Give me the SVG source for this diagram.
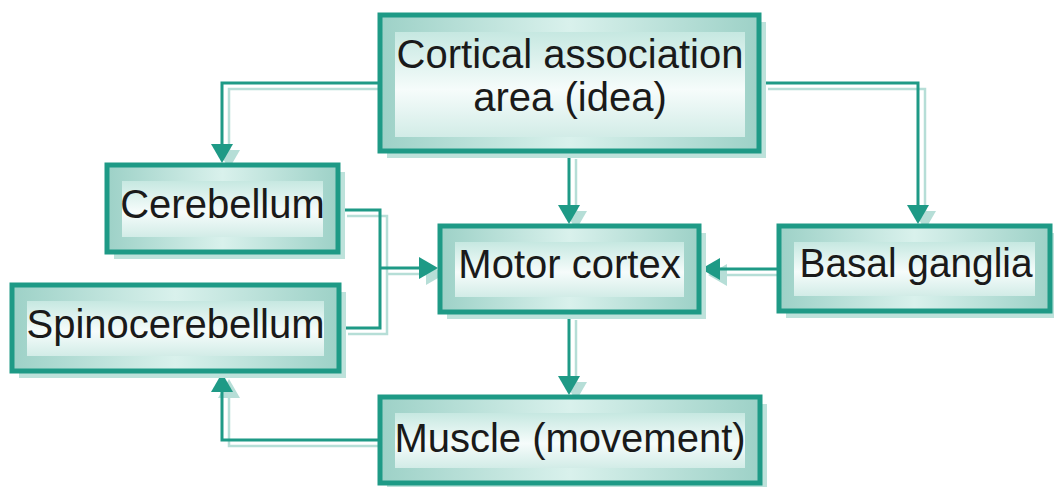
<svg xmlns="http://www.w3.org/2000/svg" width="1054" height="487" viewBox="0 0 1054 487">
  <defs>
    <linearGradient id="frameH" x1="0" y1="0" x2="1" y2="0">
      <stop offset="0" stop-color="#9dd1c7"/>
      <stop offset="0.5" stop-color="#d9f1ec"/>
      <stop offset="1" stop-color="#9dd1c7"/>
    </linearGradient>
    <linearGradient id="panelV" x1="0" y1="0" x2="0" y2="1">
      <stop offset="0" stop-color="#c6e8e1"/>
      <stop offset="0.55" stop-color="#f6fcfb"/>
      <stop offset="1" stop-color="#d2ece7"/>
    </linearGradient>
    <marker id="arrow" markerUnits="userSpaceOnUse" markerWidth="20" markerHeight="22" refX="10" refY="11" orient="auto" viewBox="0 0 20 22">
      <path d="M0,0 L19,11 L0,22 Z" fill="#1e9a86"/>
    </marker>
    <marker id="arrowShadow" markerUnits="userSpaceOnUse" markerWidth="20" markerHeight="22" refX="10" refY="11" orient="auto" viewBox="0 0 20 22">
      <path d="M0,0 L19,11 L0,22 Z" fill="#b6ded7"/>
    </marker>
  </defs>
  <style>
    .shadow { fill: #bde2db; }
    .frame { fill: url(#frameH); stroke: #1e9a86; stroke-width: 5; }
    .panel { fill: url(#panelV); }
    .label { font-family: "Liberation Sans", Arial, sans-serif; font-size: 40px; fill: #1a1a1a; text-anchor: middle; }
    .wire { fill: none; stroke: #1e9a86; stroke-width: 3; }
    .wire-shadow { fill: none; stroke: #b6ded7; stroke-width: 2.5; }
  </style>

  <rect width="1054" height="487" fill="#ffffff"/>

  <!-- connectors: soft offset copy first, then the main teal lines -->
  <g id="connectors">
    <g transform="translate(7,6)">
      <path class="wire-shadow" d="M378,83 H222 V154" marker-end="url(#arrowShadow)"/>
      <path class="wire-shadow" d="M569,153 V215" marker-end="url(#arrowShadow)"/>
      <path class="wire-shadow" d="M761,83 H918 V215" marker-end="url(#arrowShadow)"/>
      <path class="wire-shadow" d="M777,269 H710" marker-end="url(#arrowShadow)"/>
      <path class="wire-shadow" d="M340,210 H380 V328 H341"/>
      <path class="wire-shadow" d="M380,268 H429" marker-end="url(#arrowShadow)"/>
      <path class="wire-shadow" d="M569,314 V386" marker-end="url(#arrowShadow)"/>
      <path class="wire-shadow" d="M378,440 H222 V382" marker-end="url(#arrowShadow)"/>
    </g>
    <path class="wire" d="M378,83 H222 V154" marker-end="url(#arrow)"/>
    <path class="wire" d="M569,153 V215" marker-end="url(#arrow)"/>
    <path class="wire" d="M761,83 H918 V215" marker-end="url(#arrow)"/>
    <path class="wire" d="M777,269 H710" marker-end="url(#arrow)"/>
    <path class="wire" d="M340,210 H380 V328 H341"/>
    <path class="wire" d="M380,268 H429" marker-end="url(#arrow)"/>
    <path class="wire" d="M569,314 V386" marker-end="url(#arrow)"/>
    <path class="wire" d="M378,440 H222 V382" marker-end="url(#arrow)"/>
  </g>

  <g id="cortical">
    <rect class="shadow" x="387" y="22" width="379" height="136"/>
    <rect class="frame" x="380" y="15" width="379" height="136"/>
    <rect class="panel" x="395" y="32" width="350" height="105"/>
    <text class="label" x="570" y="68">Cortical association</text>
    <text class="label" x="570" y="111">area (idea)</text>
  </g>

  <g id="cerebellum">
    <rect class="shadow" x="114" y="172" width="231" height="87"/>
    <rect class="frame" x="107" y="165" width="231" height="87"/>
    <rect class="panel" x="122" y="181" width="201" height="56"/>
    <text class="label" x="222.5" y="218">Cerebellum</text>
  </g>

  <g id="spinocerebellum">
    <rect class="shadow" x="19" y="292" width="327" height="86"/>
    <rect class="frame" x="12" y="285" width="327" height="86"/>
    <rect class="panel" x="27" y="301" width="297" height="55"/>
    <text class="label" x="175.5" y="338">Spinocerebellum</text>
  </g>

  <g id="motor-cortex">
    <rect class="shadow" x="447" y="233" width="259" height="86"/>
    <rect class="frame" x="440" y="226" width="259" height="86"/>
    <rect class="panel" x="455" y="242" width="229" height="55"/>
    <text class="label" x="569.5" y="278">Motor cortex</text>
  </g>

  <g id="basal-ganglia">
    <rect class="shadow" x="786" y="233" width="271" height="85"/>
    <rect class="frame" x="779" y="226" width="271" height="85"/>
    <rect class="panel" x="794" y="242" width="241" height="54"/>
    <text class="label" x="916" y="277" textLength="233" lengthAdjust="spacingAndGlyphs">Basal ganglia</text>
  </g>

  <g id="muscle">
    <rect class="shadow" x="387" y="404" width="380" height="86"/>
    <rect class="frame" x="380" y="397" width="380" height="86"/>
    <rect class="panel" x="395" y="413" width="350" height="55"/>
    <text class="label" x="570" y="452">Muscle (movement)</text>
  </g>
</svg>
